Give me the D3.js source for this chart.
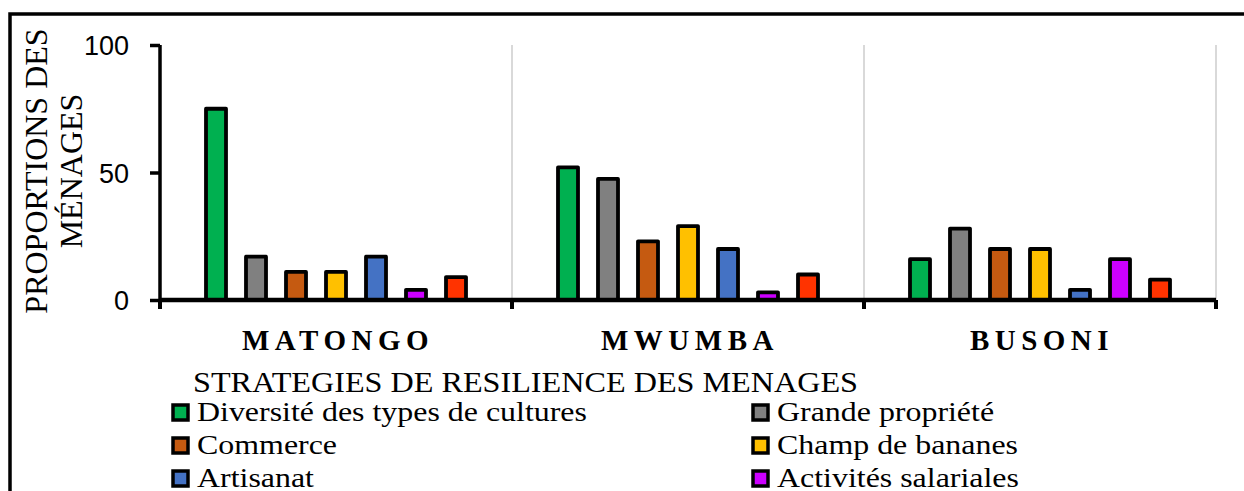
<!DOCTYPE html>
<html>
<head>
<meta charset="utf-8">
<script src="https://cdn.jsdelivr.net/npm/d3@7"></script>
<style>
  html, body { margin: 0; padding: 0; background: #fff; }
  svg { display: block; }
  .serif { font-family: "Liberation Serif", "Times New Roman", serif; fill: #000; }
  .tick-label { font-family: "Liberation Sans", Arial, sans-serif; font-size: 27px; fill: #000; }
</style>
</head>
<body>
<svg id="chart" width="1244" height="491"></svg>
<script>
// ──────────────  data

const sites = ['MATONGO', 'MWUMBA', 'BUSONI'];
const strategies = [
  'Diversité des types de cultures',
  'Grande propriété',
  'Commerce',
  'Champ de bananes',
  'Artisanat',
  'Activités salariales',
  'Autres'
];
const colors = ['#00B050', '#808080', '#C55A11', '#FFC000', '#4472C4', '#CC00FF', '#FF3300'];

// one array per site, in strategy order
const matongo = [75, 17, 11, 11, 17, 4, 9];
const mwumba  = [52, 47.5, 23, 29, 20, 3, 10];
const busoni  = [16, 28, 20, 20, 4, 16, 8];
const values = [matongo, mwumba, busoni];

const yTicks = [0, 50, 100];

// ──────────────  layout

const svg = d3.select('#chart');
const X0 = 160, X1 = 1216, Y0 = 300, Y1 = 45;

// frame around the whole figure (cropped on right/bottom)
svg.append('rect')
  .attr('x', 10).attr('y', 14)
  .attr('width', 1260).attr('height', 520)
  .attr('fill', 'none').attr('stroke', '#000').attr('stroke-width', 3.5);

const x0 = d3.scaleBand().domain(sites).range([X0, X1]).padding(0);
const x1 = d3.scaleBand().domain(d3.range(strategies.length))
  .range([0, x0.bandwidth()]).paddingInner(0.5).paddingOuter(1.15);
const y = d3.scaleLinear().domain([0, 100]).range([Y0, Y1]);

// light vertical separators
svg.append('g').selectAll('line')
  .data(sites.slice(1).map(s => x0(s)).concat([X1]))
  .join('line')
  .attr('x1', d => d).attr('x2', d => d)
  .attr('y1', y(100)).attr('y2', y(0))
  .attr('stroke', '#d9d9d9').attr('stroke-width', 2);

// bars
const groups = svg.append('g').selectAll('g.site')
  .data(sites)
  .join('g')
  .attr('class', 'site')
  .attr('transform', d => `translate(${x0(d)},0)`);

groups.selectAll('rect')
  .data((d, i) => values[i].map((v, j) => ({ v, j })))
  .join('rect')
  .attr('x', d => x1(d.j))
  .attr('width', x1.bandwidth())
  .attr('y', d => y(d.v))
  .attr('height', d => y(0) - y(d.v))
  .attr('fill', d => colors[d.j])
  .attr('stroke', '#000').attr('stroke-width', 3.8)
  .attr('stroke-linejoin', 'round');

// y axis
const yAxis = svg.append('g')
  .attr('transform', `translate(${X0},0)`)
  .call(d3.axisLeft(y).tickValues(yTicks).tickSize(10).tickSizeOuter(0).tickPadding(21));
yAxis.select('.domain').attr('stroke', '#000').attr('stroke-width', 3.5)
  .attr('d', `M0,${Y1}V${Y0 + 8}`);
yAxis.selectAll('.tick line').attr('stroke', '#000').attr('stroke-width', 3.5);
yAxis.selectAll('.tick text').attr('class', 'tick-label').attr('dy', '0.36em');

// x axis
const xAxis = svg.append('g')
  .attr('transform', `translate(0,${Y0})`)
  .call(d3.axisBottom(x0).tickSize(0).tickFormat(''));
xAxis.select('.domain').attr('stroke', '#000').attr('stroke-width', 4.5)
  .attr('d', `M${X0},0H${X1}`);
svg.append('g').selectAll('line')
  .data(sites.map(s => x0(s)).concat([X1]))
  .join('line')
  .attr('x1', d => d).attr('x2', d => d)
  .attr('y1', Y0).attr('y2', Y0 + 9)
  .attr('stroke', '#000').attr('stroke-width', 4);

// category labels
svg.append('g').selectAll('text')
  .data(sites)
  .join('text')
  .attr('class', 'serif')
  .attr('x', d => x0(d) + x0.bandwidth() / 2 + 2)
  .attr('y', 350)
  .attr('text-anchor', 'middle')
  .style('font-size', '29px').style('font-weight', 'bold').style('letter-spacing', '5.5px')
  .text(d => d);

// y axis title (two lines, rotated)
const yTitle = svg.append('text')
  .attr('class', 'serif')
  .attr('transform', 'translate(47,171) rotate(-90)')
  .attr('text-anchor', 'middle')
  .style('font-size', '32px');
yTitle.append('tspan').attr('x', 0).attr('y', 0).text('PROPORTIONS DES');
yTitle.append('tspan').attr('x', 0).attr('y', 35).text('MÉNAGES');

// ──────────────  legend

svg.append('text')
  .attr('class', 'serif')
  .attr('transform', 'translate(193,392) scale(1.11,1)')
  .style('font-size', '29px')
  .text('STRATEGIES DE RESILIENCE DES MENAGES');

const legend = svg.append('g').selectAll('g.item')
  .data(strategies)
  .join('g')
  .attr('class', 'item')
  .attr('transform', (d, i) => `translate(${i % 2 ? 753 : 173},${421 + Math.floor(i / 2) * 33})`);

legend.append('rect')
  .attr('x', 0).attr('y', -16)
  .attr('width', 15).attr('height', 15)
  .attr('fill', (d, i) => colors[i])
  .attr('stroke', '#000').attr('stroke-width', 3.5);

legend.append('text')
  .attr('class', 'serif')
  .attr('transform', 'translate(24,0) scale(1.14,1)')
  .style('font-size', '28px')
  .text(d => d);
</script>
</body>
</html>
